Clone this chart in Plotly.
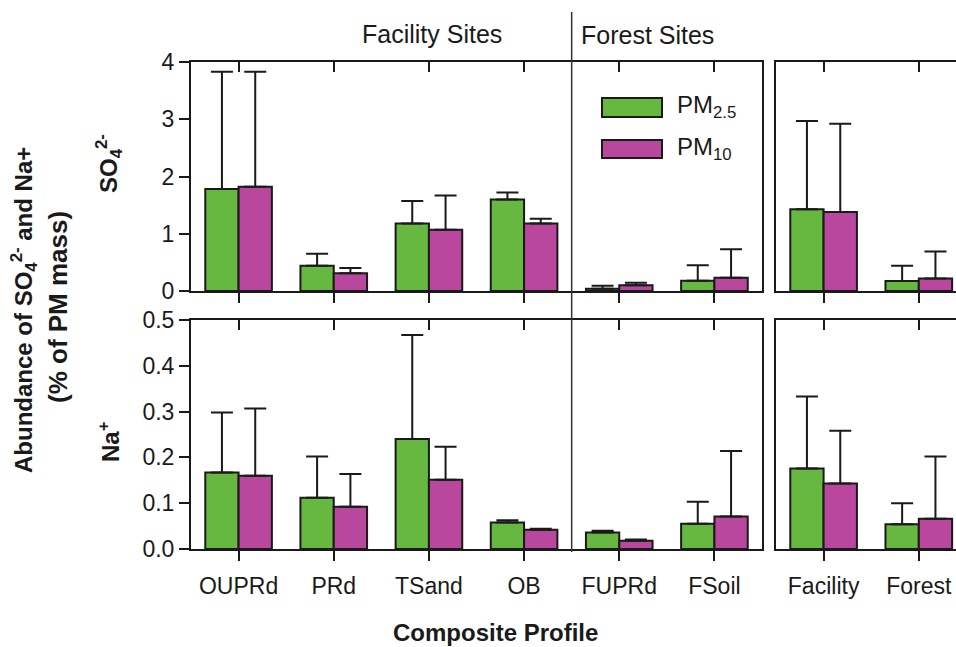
import plotly.graph_objects as go

# ---------------- data ----------------
site_cats = ["OUPRd", "PRd", "TSand", "OB", "FUPRd", "FSoil"]
group_cats = ["Facility", "Forest"]

so4_pm25 = [1.78, 0.44, 1.18, 1.60, 0.04, 0.18]
so4_pm25_top = [3.83, 0.65, 1.57, 1.72, 0.09, 0.45]
so4_pm10 = [1.82, 0.31, 1.07, 1.18, 0.10, 0.23]
so4_pm10_top = [3.83, 0.40, 1.67, 1.26, 0.145, 0.73]

na_pm25 = [0.167, 0.112, 0.240, 0.058, 0.036, 0.055]
na_pm25_top = [0.298, 0.202, 0.467, 0.063, 0.040, 0.103]
na_pm10 = [0.160, 0.092, 0.151, 0.042, 0.018, 0.071]
na_pm10_top = [0.307, 0.164, 0.223, 0.044, 0.021, 0.214]

so4_grp_pm25 = [1.43, 0.175]
so4_grp_pm25_top = [2.97, 0.44]
so4_grp_pm10 = [1.38, 0.22]
so4_grp_pm10_top = [2.92, 0.69]

na_grp_pm25 = [0.176, 0.054]
na_grp_pm25_top = [0.333, 0.100]
na_grp_pm10 = [0.143, 0.066]
na_grp_pm10_top = [0.258, 0.202]

so4_ticks = [0, 1, 2, 3, 4]
na_ticks = [0.0, 0.1, 0.2, 0.3, 0.4, 0.5]

# ---------------- style ----------------
W, H = 956, 647
GREEN = "#66b840"
MAGENTA = "#b9479d"
INK = "#1a1a1a"
FONT = "Liberation Sans, Arial, sans-serif"


def px_x(p):
    return p / W


def px_y(p):
    return 1 - p / H


def bar(cats, vals, tops, color, xa, ya):
    up = [t - v for t, v in zip(tops, vals)]
    return go.Bar(
        x=cats, y=vals, xaxis=xa, yaxis=ya,
        marker=dict(color=color, line=dict(color=INK, width=2)),
        error_y=dict(type="data", symmetric=False, array=up,
                     arrayminus=[0] * len(up), color=INK, thickness=2, width=11),
        showlegend=False, hoverinfo="x+y",
    )


fig = go.Figure()
fig.add_trace(bar(site_cats, so4_pm25, so4_pm25_top, GREEN, "x", "y"))
fig.add_trace(bar(site_cats, so4_pm10, so4_pm10_top, MAGENTA, "x", "y"))
fig.add_trace(bar(site_cats, na_pm25, na_pm25_top, GREEN, "x2", "y2"))
fig.add_trace(bar(site_cats, na_pm10, na_pm10_top, MAGENTA, "x2", "y2"))
fig.add_trace(bar(group_cats, so4_grp_pm25, so4_grp_pm25_top, GREEN, "x3", "y3"))
fig.add_trace(bar(group_cats, so4_grp_pm10, so4_grp_pm10_top, MAGENTA, "x3", "y3"))
fig.add_trace(bar(group_cats, na_grp_pm25, na_grp_pm25_top, GREEN, "x4", "y4"))
fig.add_trace(bar(group_cats, na_grp_pm10, na_grp_pm10_top, MAGENTA, "x4", "y4"))

# empty traces so the top-tick overlay axes are drawn
for xa, ya in [("x5", "y"), ("x6", "y2"), ("x7", "y3"), ("x8", "y4")]:
    fig.add_trace(go.Scatter(x=[], y=[], xaxis=xa, yaxis=ya, showlegend=False))

left_dom = [px_x(191), px_x(762)]
right_dom = [px_x(776), 1.0]
top_dom = [px_y(291), px_y(62)]
bot_dom = [px_y(549), px_y(320)]
left_range = [-0.5, 5.5]
right_range = [-0.5, (956 - 776) / 95.2 - 0.5]

tickfont = dict(family=FONT, size=23, color=INK)

common_x = dict(showline=True, linecolor=INK, linewidth=2, ticks="outside",
                ticklen=10, tickwidth=2, tickcolor=INK, showgrid=False,
                zeroline=False, tickfont=tickfont, automargin=False,
                ticklabelstandoff=5)
common_y = dict(showline=True, linecolor=INK, linewidth=2, showgrid=False,
                zeroline=False, tickfont=tickfont, automargin=False)

top_overlay = dict(side="top", ticks="inside", ticklen=10, tickwidth=2,
                   tickcolor=INK, showticklabels=False, showline=False,
                   showgrid=False, zeroline=False, automargin=False)

fig.update_layout(
    width=W, height=H,
    margin=dict(l=0, r=0, t=0, b=0),
    paper_bgcolor="white", plot_bgcolor="white",
    barmode="group", bargap=0.3, bargroupgap=0,
    showlegend=False,
    font=dict(family=FONT, color=INK),
    xaxis=dict(domain=left_dom, anchor="y", range=left_range, mirror=True,
               showticklabels=False, type="category",
               categoryorder="array", categoryarray=site_cats, **common_x),
    yaxis=dict(domain=top_dom, anchor="x", range=[0, 4], mirror=True,
               tickvals=so4_ticks, ticks="outside", ticklen=10, tickwidth=2,
               tickcolor=INK, **common_y),
    xaxis2=dict(domain=left_dom, anchor="y2", range=left_range, mirror=True,
                type="category", categoryorder="array",
                categoryarray=site_cats, **common_x),
    yaxis2=dict(domain=bot_dom, anchor="x2", range=[0, 0.5], mirror=True,
                tickvals=na_ticks, tickformat=".1f", ticks="outside",
                ticklen=10, tickwidth=2, tickcolor=INK, **common_y),
    xaxis3=dict(domain=right_dom, anchor="y3", range=right_range, mirror=False,
                showticklabels=False, type="category", categoryorder="array",
                categoryarray=group_cats, **common_x),
    yaxis3=dict(domain=top_dom, anchor="x3", range=[0, 4], mirror=False,
                showticklabels=False, ticks="", **common_y),
    xaxis4=dict(domain=right_dom, anchor="y4", range=right_range, mirror=False,
                type="category", categoryorder="array",
                categoryarray=group_cats, **common_x),
    yaxis4=dict(domain=bot_dom, anchor="x4", range=[0, 0.5], mirror=False,
                showticklabels=False, ticks="", **common_y),
    xaxis5=dict(overlaying="x", anchor="y", range=left_range,
                tickvals=list(range(len(site_cats))), **top_overlay),
    xaxis6=dict(overlaying="x2", anchor="y2", range=left_range,
                tickvals=list(range(len(site_cats))), **top_overlay),
    xaxis7=dict(overlaying="x3", anchor="y3", range=right_range,
                tickvals=list(range(len(group_cats))), showline=True,
                linecolor=INK, linewidth=2,
                **{k: v for k, v in top_overlay.items() if k != "showline"}),
    xaxis8=dict(overlaying="x4", anchor="y4", range=right_range,
                tickvals=list(range(len(group_cats))), showline=True,
                linecolor=INK, linewidth=2,
                **{k: v for k, v in top_overlay.items() if k != "showline"}),
)

# divider between facility and forest sites
fig.add_shape(type="line", xref="x", yref="paper", x0=3.5, x1=3.5,
              y0=px_y(552), y1=px_y(12), line=dict(color="#333333", width=1.5))

# legend drawn as wide boxes
fig.add_shape(type="rect", xref="paper", yref="paper",
              x0=px_x(602), x1=px_x(662), y0=px_y(117), y1=px_y(98),
              fillcolor=GREEN, line=dict(color=INK, width=2))
fig.add_shape(type="rect", xref="paper", yref="paper",
              x0=px_x(602), x1=px_x(662), y0=px_y(158), y1=px_y(140),
              fillcolor=MAGENTA, line=dict(color=INK, width=2))

annots = [
    dict(text="PM<sub>2.5</sub>", x=px_x(675), y=px_y(107), xanchor="left",
         yanchor="middle", font=dict(size=24)),
    dict(text="PM<sub>10</sub>", x=px_x(675), y=px_y(148), xanchor="left",
         yanchor="middle", font=dict(size=24)),
    dict(text="Facility Sites", x=px_x(432), y=px_y(34), xanchor="center",
         yanchor="middle", font=dict(size=25)),
    dict(text="Forest Sites", x=px_x(647), y=px_y(35), xanchor="center",
         yanchor="middle", font=dict(size=25)),
    dict(text="<b>Composite Profile</b>", x=px_x(495), y=px_y(632),
         xanchor="center", yanchor="middle", font=dict(size=24)),
    dict(text="<b>Abundance of SO<sub>4</sub><sup>2-</sup> and Na+</b>",
         x=px_x(24), y=px_y(310), xanchor="center", yanchor="middle",
         textangle=-90, font=dict(size=24)),
    dict(text="<b>(% of PM mass)</b>", x=px_x(58), y=px_y(307),
         xanchor="center", yanchor="middle", textangle=-90,
         font=dict(size=26)),
    dict(text="<b>SO<sub>4</sub><sup>2-</sup></b>", x=px_x(109), y=px_y(164),
         xanchor="center", yanchor="middle", textangle=-90,
         font=dict(size=24)),
    dict(text="<b>Na<sup>+</sup></b>", x=px_x(109), y=px_y(442),
         xanchor="center", yanchor="middle", textangle=-90,
         font=dict(size=24)),
]
for a in annots:
    a.setdefault("showarrow", False)
    a["xref"] = "paper"
    a["yref"] = "paper"
    a["font"] = dict(family=FONT, color=INK, **a["font"])
    fig.add_annotation(**a)

fig.write_html("out.html")
